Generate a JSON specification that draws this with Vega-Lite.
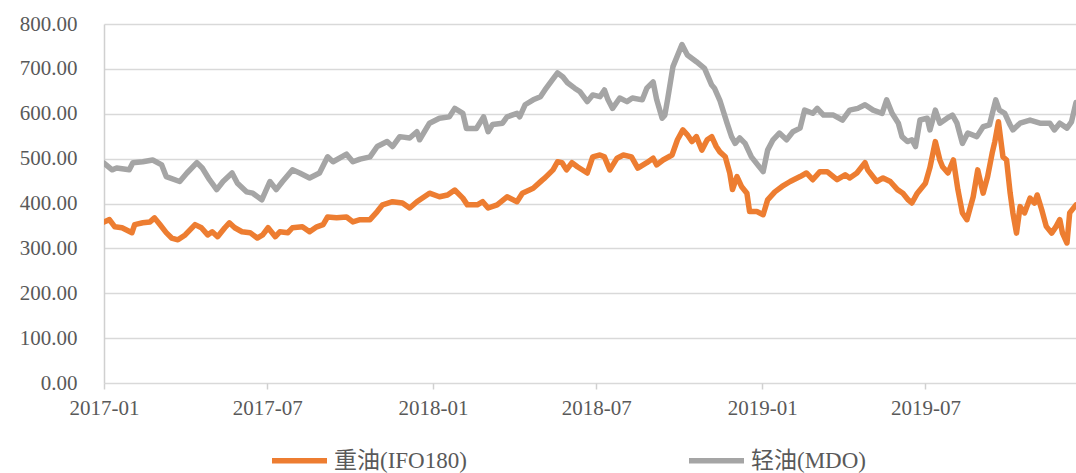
{
  "$schema": "https://vega.github.io/schema/vega-lite/v6.json",
  "width": 972,
  "height": 359,
  "autosize": {"type": "none"},
  "padding": {"left": 104, "top": 24, "right": 0, "bottom": 90},
  "background": "white",
  "config": {
    "view": {"stroke": null},
    "font": "Liberation Serif",
    "axis": {
      "labelFont": "Liberation Serif, Noto Sans CJK SC, serif",
      "labelFontSize": 21,
      "labelColor": "#595959",
      "gridColor": "#D9D9D9",
      "gridWidth": 1.5,
      "domainColor": "#D0D0D0",
      "domainWidth": 1.5,
      "tickColor": "#D0D0D0",
      "tickWidth": 1.5,
      "title": null
    },
    "legend": {
      "labelFont": "Liberation Serif, Noto Sans CJK SC, serif",
      "labelFontSize": 23,
      "labelColor": "#595959",
      "padding": 0
    }
  },
  "data": {
    "values": [
      {"d": "2017-01-01", "s": "重油(IFO180)", "v": 359},
      {"d": "2017-01-07", "s": "重油(IFO180)", "v": 364},
      {"d": "2017-01-13", "s": "重油(IFO180)", "v": 348},
      {"d": "2017-01-21", "s": "重油(IFO180)", "v": 346},
      {"d": "2017-02-01", "s": "重油(IFO180)", "v": 335},
      {"d": "2017-02-04", "s": "重油(IFO180)", "v": 353},
      {"d": "2017-02-13", "s": "重油(IFO180)", "v": 357},
      {"d": "2017-02-21", "s": "重油(IFO180)", "v": 359},
      {"d": "2017-02-26", "s": "重油(IFO180)", "v": 368},
      {"d": "2017-03-04", "s": "重油(IFO180)", "v": 353},
      {"d": "2017-03-11", "s": "重油(IFO180)", "v": 335},
      {"d": "2017-03-17", "s": "重油(IFO180)", "v": 323},
      {"d": "2017-03-24", "s": "重油(IFO180)", "v": 319},
      {"d": "2017-04-01", "s": "重油(IFO180)", "v": 330},
      {"d": "2017-04-12", "s": "重油(IFO180)", "v": 353},
      {"d": "2017-04-19", "s": "重油(IFO180)", "v": 346},
      {"d": "2017-04-26", "s": "重油(IFO180)", "v": 330},
      {"d": "2017-05-01", "s": "重油(IFO180)", "v": 337},
      {"d": "2017-05-07", "s": "重油(IFO180)", "v": 326},
      {"d": "2017-05-15", "s": "重油(IFO180)", "v": 346},
      {"d": "2017-05-20", "s": "重油(IFO180)", "v": 357},
      {"d": "2017-05-26", "s": "重油(IFO180)", "v": 346},
      {"d": "2017-06-03", "s": "重油(IFO180)", "v": 337},
      {"d": "2017-06-12", "s": "重油(IFO180)", "v": 335},
      {"d": "2017-06-20", "s": "重油(IFO180)", "v": 323},
      {"d": "2017-06-26", "s": "重油(IFO180)", "v": 330},
      {"d": "2017-07-02", "s": "重油(IFO180)", "v": 346},
      {"d": "2017-07-10", "s": "重油(IFO180)", "v": 326},
      {"d": "2017-07-15", "s": "重油(IFO180)", "v": 337},
      {"d": "2017-07-24", "s": "重油(IFO180)", "v": 335},
      {"d": "2017-07-29", "s": "重油(IFO180)", "v": 346},
      {"d": "2017-08-09", "s": "重油(IFO180)", "v": 348},
      {"d": "2017-08-17", "s": "重油(IFO180)", "v": 337},
      {"d": "2017-08-25", "s": "重油(IFO180)", "v": 348},
      {"d": "2017-09-01", "s": "重油(IFO180)", "v": 353},
      {"d": "2017-09-06", "s": "重油(IFO180)", "v": 370},
      {"d": "2017-09-16", "s": "重油(IFO180)", "v": 368},
      {"d": "2017-09-27", "s": "重油(IFO180)", "v": 370},
      {"d": "2017-10-04", "s": "重油(IFO180)", "v": 359},
      {"d": "2017-10-12", "s": "重油(IFO180)", "v": 364},
      {"d": "2017-10-23", "s": "重油(IFO180)", "v": 364},
      {"d": "2017-10-31", "s": "重油(IFO180)", "v": 382},
      {"d": "2017-11-06", "s": "重油(IFO180)", "v": 397},
      {"d": "2017-11-17", "s": "重油(IFO180)", "v": 404},
      {"d": "2017-11-28", "s": "重油(IFO180)", "v": 401},
      {"d": "2017-12-06", "s": "重油(IFO180)", "v": 390},
      {"d": "2017-12-14", "s": "重油(IFO180)", "v": 404},
      {"d": "2017-12-28", "s": "重油(IFO180)", "v": 423},
      {"d": "2018-01-08", "s": "重油(IFO180)", "v": 415},
      {"d": "2018-01-17", "s": "重油(IFO180)", "v": 419},
      {"d": "2018-01-25", "s": "重油(IFO180)", "v": 430},
      {"d": "2018-02-03", "s": "重油(IFO180)", "v": 412},
      {"d": "2018-02-08", "s": "重油(IFO180)", "v": 397},
      {"d": "2018-02-19", "s": "重油(IFO180)", "v": 397},
      {"d": "2018-02-25", "s": "重油(IFO180)", "v": 404},
      {"d": "2018-03-03", "s": "重油(IFO180)", "v": 390},
      {"d": "2018-03-13", "s": "重油(IFO180)", "v": 397},
      {"d": "2018-03-24", "s": "重油(IFO180)", "v": 415},
      {"d": "2018-04-04", "s": "重油(IFO180)", "v": 404},
      {"d": "2018-04-10", "s": "重油(IFO180)", "v": 423},
      {"d": "2018-04-22", "s": "重油(IFO180)", "v": 434},
      {"d": "2018-05-02", "s": "重油(IFO180)", "v": 452},
      {"d": "2018-05-05", "s": "重油(IFO180)", "v": 457},
      {"d": "2018-05-14", "s": "重油(IFO180)", "v": 475},
      {"d": "2018-05-19", "s": "重油(IFO180)", "v": 493},
      {"d": "2018-05-24", "s": "重油(IFO180)", "v": 491},
      {"d": "2018-05-29", "s": "重油(IFO180)", "v": 475},
      {"d": "2018-06-04", "s": "重油(IFO180)", "v": 491},
      {"d": "2018-06-10", "s": "重油(IFO180)", "v": 482},
      {"d": "2018-06-21", "s": "重油(IFO180)", "v": 468},
      {"d": "2018-06-27", "s": "重油(IFO180)", "v": 504},
      {"d": "2018-07-05", "s": "重油(IFO180)", "v": 508},
      {"d": "2018-07-10", "s": "重油(IFO180)", "v": 504},
      {"d": "2018-07-16", "s": "重油(IFO180)", "v": 475},
      {"d": "2018-07-24", "s": "重油(IFO180)", "v": 501},
      {"d": "2018-07-31", "s": "重油(IFO180)", "v": 508},
      {"d": "2018-08-09", "s": "重油(IFO180)", "v": 504},
      {"d": "2018-08-16", "s": "重油(IFO180)", "v": 479},
      {"d": "2018-08-26", "s": "重油(IFO180)", "v": 491},
      {"d": "2018-09-02", "s": "重油(IFO180)", "v": 501},
      {"d": "2018-09-06", "s": "重油(IFO180)", "v": 486},
      {"d": "2018-09-13", "s": "重油(IFO180)", "v": 497},
      {"d": "2018-09-23", "s": "重油(IFO180)", "v": 508},
      {"d": "2018-09-29", "s": "重油(IFO180)", "v": 542},
      {"d": "2018-10-05", "s": "重油(IFO180)", "v": 564},
      {"d": "2018-10-10", "s": "重油(IFO180)", "v": 553},
      {"d": "2018-10-15", "s": "重油(IFO180)", "v": 538},
      {"d": "2018-10-20", "s": "重油(IFO180)", "v": 549},
      {"d": "2018-10-26", "s": "重油(IFO180)", "v": 519},
      {"d": "2018-11-01", "s": "重油(IFO180)", "v": 542},
      {"d": "2018-11-06", "s": "重油(IFO180)", "v": 549},
      {"d": "2018-11-11", "s": "重油(IFO180)", "v": 527},
      {"d": "2018-11-15", "s": "重油(IFO180)", "v": 515},
      {"d": "2018-11-21", "s": "重油(IFO180)", "v": 504},
      {"d": "2018-11-26", "s": "重油(IFO180)", "v": 468},
      {"d": "2018-11-29", "s": "重油(IFO180)", "v": 431},
      {"d": "2018-12-04", "s": "重油(IFO180)", "v": 460},
      {"d": "2018-12-09", "s": "重油(IFO180)", "v": 438},
      {"d": "2018-12-15", "s": "重油(IFO180)", "v": 423},
      {"d": "2018-12-18", "s": "重油(IFO180)", "v": 382},
      {"d": "2018-12-26", "s": "重油(IFO180)", "v": 382},
      {"d": "2019-01-02", "s": "重油(IFO180)", "v": 375},
      {"d": "2019-01-07", "s": "重油(IFO180)", "v": 408},
      {"d": "2019-01-15", "s": "重油(IFO180)", "v": 426},
      {"d": "2019-01-23", "s": "重油(IFO180)", "v": 438},
      {"d": "2019-02-01", "s": "重油(IFO180)", "v": 449},
      {"d": "2019-02-12", "s": "重油(IFO180)", "v": 460},
      {"d": "2019-02-19", "s": "重油(IFO180)", "v": 468},
      {"d": "2019-02-26", "s": "重油(IFO180)", "v": 453},
      {"d": "2019-03-06", "s": "重油(IFO180)", "v": 471},
      {"d": "2019-03-14", "s": "重油(IFO180)", "v": 471},
      {"d": "2019-03-25", "s": "重油(IFO180)", "v": 453},
      {"d": "2019-04-03", "s": "重油(IFO180)", "v": 464},
      {"d": "2019-04-08", "s": "重油(IFO180)", "v": 457},
      {"d": "2019-04-16", "s": "重油(IFO180)", "v": 468},
      {"d": "2019-04-25", "s": "重油(IFO180)", "v": 491},
      {"d": "2019-04-28", "s": "重油(IFO180)", "v": 475},
      {"d": "2019-05-08", "s": "重油(IFO180)", "v": 449},
      {"d": "2019-05-15", "s": "重油(IFO180)", "v": 457},
      {"d": "2019-05-23", "s": "重油(IFO180)", "v": 449},
      {"d": "2019-05-31", "s": "重油(IFO180)", "v": 431},
      {"d": "2019-06-06", "s": "重油(IFO180)", "v": 423},
      {"d": "2019-06-12", "s": "重油(IFO180)", "v": 408},
      {"d": "2019-06-16", "s": "重油(IFO180)", "v": 401},
      {"d": "2019-06-22", "s": "重油(IFO180)", "v": 423},
      {"d": "2019-07-01", "s": "重油(IFO180)", "v": 445},
      {"d": "2019-07-06", "s": "重油(IFO180)", "v": 480},
      {"d": "2019-07-12", "s": "重油(IFO180)", "v": 538},
      {"d": "2019-07-17", "s": "重油(IFO180)", "v": 497},
      {"d": "2019-07-20", "s": "重油(IFO180)", "v": 482},
      {"d": "2019-07-26", "s": "重油(IFO180)", "v": 468},
      {"d": "2019-08-01", "s": "重油(IFO180)", "v": 497},
      {"d": "2019-08-06", "s": "重油(IFO180)", "v": 431},
      {"d": "2019-08-11", "s": "重油(IFO180)", "v": 379},
      {"d": "2019-08-16", "s": "重油(IFO180)", "v": 364},
      {"d": "2019-08-23", "s": "重油(IFO180)", "v": 415},
      {"d": "2019-08-28", "s": "重油(IFO180)", "v": 475},
      {"d": "2019-09-03", "s": "重油(IFO180)", "v": 423},
      {"d": "2019-09-08", "s": "重油(IFO180)", "v": 460},
      {"d": "2019-09-13", "s": "重油(IFO180)", "v": 512},
      {"d": "2019-09-16", "s": "重油(IFO180)", "v": 538},
      {"d": "2019-09-20", "s": "重油(IFO180)", "v": 582},
      {"d": "2019-09-25", "s": "重油(IFO180)", "v": 504},
      {"d": "2019-09-29", "s": "重油(IFO180)", "v": 497},
      {"d": "2019-10-03", "s": "重油(IFO180)", "v": 423},
      {"d": "2019-10-06", "s": "重油(IFO180)", "v": 379},
      {"d": "2019-10-10", "s": "重油(IFO180)", "v": 334},
      {"d": "2019-10-14", "s": "重油(IFO180)", "v": 393},
      {"d": "2019-10-19", "s": "重油(IFO180)", "v": 379},
      {"d": "2019-10-25", "s": "重油(IFO180)", "v": 412},
      {"d": "2019-10-30", "s": "重油(IFO180)", "v": 401},
      {"d": "2019-11-02", "s": "重油(IFO180)", "v": 419},
      {"d": "2019-11-07", "s": "重油(IFO180)", "v": 386},
      {"d": "2019-11-12", "s": "重油(IFO180)", "v": 349},
      {"d": "2019-11-18", "s": "重油(IFO180)", "v": 334},
      {"d": "2019-11-23", "s": "重油(IFO180)", "v": 349},
      {"d": "2019-11-27", "s": "重油(IFO180)", "v": 364},
      {"d": "2019-11-30", "s": "重油(IFO180)", "v": 334},
      {"d": "2019-12-05", "s": "重油(IFO180)", "v": 312},
      {"d": "2019-12-08", "s": "重油(IFO180)", "v": 379},
      {"d": "2019-12-15", "s": "重油(IFO180)", "v": 397},

      {"d": "2017-01-01", "s": "轻油(MDO)", "v": 490},
      {"d": "2017-01-10", "s": "轻油(MDO)", "v": 475},
      {"d": "2017-01-15", "s": "轻油(MDO)", "v": 479},
      {"d": "2017-01-29", "s": "轻油(MDO)", "v": 475},
      {"d": "2017-02-02", "s": "轻油(MDO)", "v": 491},
      {"d": "2017-02-13", "s": "轻油(MDO)", "v": 493},
      {"d": "2017-02-24", "s": "轻油(MDO)", "v": 497},
      {"d": "2017-03-06", "s": "轻油(MDO)", "v": 486},
      {"d": "2017-03-11", "s": "轻油(MDO)", "v": 460},
      {"d": "2017-03-26", "s": "轻油(MDO)", "v": 449},
      {"d": "2017-04-03", "s": "轻油(MDO)", "v": 468},
      {"d": "2017-04-14", "s": "轻油(MDO)", "v": 491},
      {"d": "2017-04-20", "s": "轻油(MDO)", "v": 479},
      {"d": "2017-04-28", "s": "轻油(MDO)", "v": 453},
      {"d": "2017-05-06", "s": "轻油(MDO)", "v": 431},
      {"d": "2017-05-13", "s": "轻油(MDO)", "v": 449},
      {"d": "2017-05-23", "s": "轻油(MDO)", "v": 468},
      {"d": "2017-05-29", "s": "轻油(MDO)", "v": 445},
      {"d": "2017-06-08", "s": "轻油(MDO)", "v": 426},
      {"d": "2017-06-15", "s": "轻油(MDO)", "v": 423},
      {"d": "2017-06-25", "s": "轻油(MDO)", "v": 408},
      {"d": "2017-07-04", "s": "轻油(MDO)", "v": 449},
      {"d": "2017-07-11", "s": "轻油(MDO)", "v": 431},
      {"d": "2017-07-18", "s": "轻油(MDO)", "v": 449},
      {"d": "2017-07-29", "s": "轻油(MDO)", "v": 475},
      {"d": "2017-08-06", "s": "轻油(MDO)", "v": 468},
      {"d": "2017-08-17", "s": "轻油(MDO)", "v": 457},
      {"d": "2017-08-28", "s": "轻油(MDO)", "v": 468},
      {"d": "2017-09-06", "s": "轻油(MDO)", "v": 504},
      {"d": "2017-09-12", "s": "轻油(MDO)", "v": 493},
      {"d": "2017-09-27", "s": "轻油(MDO)", "v": 510},
      {"d": "2017-10-04", "s": "轻油(MDO)", "v": 493},
      {"d": "2017-10-12", "s": "轻油(MDO)", "v": 499},
      {"d": "2017-10-23", "s": "轻油(MDO)", "v": 504},
      {"d": "2017-10-31", "s": "轻油(MDO)", "v": 527},
      {"d": "2017-11-11", "s": "轻油(MDO)", "v": 538},
      {"d": "2017-11-17", "s": "轻油(MDO)", "v": 527},
      {"d": "2017-11-25", "s": "轻油(MDO)", "v": 549},
      {"d": "2017-12-06", "s": "轻油(MDO)", "v": 546},
      {"d": "2017-12-14", "s": "轻油(MDO)", "v": 560},
      {"d": "2017-12-17", "s": "轻油(MDO)", "v": 542},
      {"d": "2017-12-28", "s": "轻油(MDO)", "v": 579},
      {"d": "2018-01-08", "s": "轻油(MDO)", "v": 590},
      {"d": "2018-01-19", "s": "轻油(MDO)", "v": 593},
      {"d": "2018-01-25", "s": "轻油(MDO)", "v": 612},
      {"d": "2018-02-03", "s": "轻油(MDO)", "v": 601},
      {"d": "2018-02-07", "s": "轻油(MDO)", "v": 567},
      {"d": "2018-02-18", "s": "轻油(MDO)", "v": 567},
      {"d": "2018-02-26", "s": "轻油(MDO)", "v": 593},
      {"d": "2018-03-03", "s": "轻油(MDO)", "v": 560},
      {"d": "2018-03-08", "s": "轻油(MDO)", "v": 576},
      {"d": "2018-03-19", "s": "轻油(MDO)", "v": 579},
      {"d": "2018-03-24", "s": "轻油(MDO)", "v": 593},
      {"d": "2018-04-04", "s": "轻油(MDO)", "v": 601},
      {"d": "2018-04-07", "s": "轻油(MDO)", "v": 593},
      {"d": "2018-04-13", "s": "轻油(MDO)", "v": 620},
      {"d": "2018-04-22", "s": "轻油(MDO)", "v": 631},
      {"d": "2018-04-30", "s": "轻油(MDO)", "v": 638},
      {"d": "2018-05-05", "s": "轻油(MDO)", "v": 653},
      {"d": "2018-05-13", "s": "轻油(MDO)", "v": 675},
      {"d": "2018-05-19", "s": "轻油(MDO)", "v": 691},
      {"d": "2018-05-25", "s": "轻油(MDO)", "v": 682},
      {"d": "2018-05-30", "s": "轻油(MDO)", "v": 669},
      {"d": "2018-06-07", "s": "轻油(MDO)", "v": 657},
      {"d": "2018-06-13", "s": "轻油(MDO)", "v": 649},
      {"d": "2018-06-21", "s": "轻油(MDO)", "v": 627},
      {"d": "2018-06-27", "s": "轻油(MDO)", "v": 642},
      {"d": "2018-07-05", "s": "轻油(MDO)", "v": 638},
      {"d": "2018-07-10", "s": "轻油(MDO)", "v": 653},
      {"d": "2018-07-14", "s": "轻油(MDO)", "v": 631},
      {"d": "2018-07-19", "s": "轻油(MDO)", "v": 612},
      {"d": "2018-07-27", "s": "轻油(MDO)", "v": 635},
      {"d": "2018-08-04", "s": "轻油(MDO)", "v": 627},
      {"d": "2018-08-10", "s": "轻油(MDO)", "v": 635},
      {"d": "2018-08-21", "s": "轻油(MDO)", "v": 631},
      {"d": "2018-08-26", "s": "轻油(MDO)", "v": 657},
      {"d": "2018-09-02", "s": "轻油(MDO)", "v": 671},
      {"d": "2018-09-06", "s": "轻油(MDO)", "v": 631},
      {"d": "2018-09-12", "s": "轻油(MDO)", "v": 590},
      {"d": "2018-09-15", "s": "轻油(MDO)", "v": 597},
      {"d": "2018-09-18", "s": "轻油(MDO)", "v": 631},
      {"d": "2018-09-24", "s": "轻油(MDO)", "v": 705},
      {"d": "2018-10-04", "s": "轻油(MDO)", "v": 754},
      {"d": "2018-10-10", "s": "轻油(MDO)", "v": 731},
      {"d": "2018-10-20", "s": "轻油(MDO)", "v": 716},
      {"d": "2018-10-29", "s": "轻油(MDO)", "v": 701},
      {"d": "2018-11-06", "s": "轻油(MDO)", "v": 664},
      {"d": "2018-11-09", "s": "轻油(MDO)", "v": 657},
      {"d": "2018-11-15", "s": "轻油(MDO)", "v": 630},
      {"d": "2018-11-23", "s": "轻油(MDO)", "v": 579},
      {"d": "2018-11-28", "s": "轻油(MDO)", "v": 549},
      {"d": "2018-12-02", "s": "轻油(MDO)", "v": 534},
      {"d": "2018-12-07", "s": "轻油(MDO)", "v": 546},
      {"d": "2018-12-13", "s": "轻油(MDO)", "v": 534},
      {"d": "2018-12-20", "s": "轻油(MDO)", "v": 504},
      {"d": "2018-12-27", "s": "轻油(MDO)", "v": 486},
      {"d": "2019-01-02", "s": "轻油(MDO)", "v": 471},
      {"d": "2019-01-07", "s": "轻油(MDO)", "v": 519},
      {"d": "2019-01-13", "s": "轻油(MDO)", "v": 542},
      {"d": "2019-01-20", "s": "轻油(MDO)", "v": 557},
      {"d": "2019-01-28", "s": "轻油(MDO)", "v": 542},
      {"d": "2019-02-04", "s": "轻油(MDO)", "v": 560},
      {"d": "2019-02-12", "s": "轻油(MDO)", "v": 568},
      {"d": "2019-02-17", "s": "轻油(MDO)", "v": 608},
      {"d": "2019-02-26", "s": "轻油(MDO)", "v": 601},
      {"d": "2019-03-03", "s": "轻油(MDO)", "v": 612},
      {"d": "2019-03-10", "s": "轻油(MDO)", "v": 597},
      {"d": "2019-03-21", "s": "轻油(MDO)", "v": 597},
      {"d": "2019-03-31", "s": "轻油(MDO)", "v": 586},
      {"d": "2019-04-08", "s": "轻油(MDO)", "v": 608},
      {"d": "2019-04-17", "s": "轻油(MDO)", "v": 612},
      {"d": "2019-04-25", "s": "轻油(MDO)", "v": 620},
      {"d": "2019-05-04", "s": "轻油(MDO)", "v": 608},
      {"d": "2019-05-14", "s": "轻油(MDO)", "v": 601},
      {"d": "2019-05-19", "s": "轻油(MDO)", "v": 631},
      {"d": "2019-05-25", "s": "轻油(MDO)", "v": 601},
      {"d": "2019-06-01", "s": "轻油(MDO)", "v": 579},
      {"d": "2019-06-05", "s": "轻油(MDO)", "v": 549},
      {"d": "2019-06-11", "s": "轻油(MDO)", "v": 538},
      {"d": "2019-06-16", "s": "轻油(MDO)", "v": 542},
      {"d": "2019-06-20", "s": "轻油(MDO)", "v": 527},
      {"d": "2019-06-25", "s": "轻油(MDO)", "v": 586},
      {"d": "2019-07-03", "s": "轻油(MDO)", "v": 590},
      {"d": "2019-07-06", "s": "轻油(MDO)", "v": 564},
      {"d": "2019-07-12", "s": "轻油(MDO)", "v": 608},
      {"d": "2019-07-17", "s": "轻油(MDO)", "v": 579},
      {"d": "2019-07-25", "s": "轻油(MDO)", "v": 590},
      {"d": "2019-07-31", "s": "轻油(MDO)", "v": 597},
      {"d": "2019-08-05", "s": "轻油(MDO)", "v": 579},
      {"d": "2019-08-11", "s": "轻油(MDO)", "v": 534},
      {"d": "2019-08-17", "s": "轻油(MDO)", "v": 557},
      {"d": "2019-08-27", "s": "轻油(MDO)", "v": 549},
      {"d": "2019-09-03", "s": "轻油(MDO)", "v": 571},
      {"d": "2019-09-10", "s": "轻油(MDO)", "v": 575},
      {"d": "2019-09-17", "s": "轻油(MDO)", "v": 631},
      {"d": "2019-09-21", "s": "轻油(MDO)", "v": 608},
      {"d": "2019-09-27", "s": "轻油(MDO)", "v": 601},
      {"d": "2019-10-03", "s": "轻油(MDO)", "v": 575},
      {"d": "2019-10-06", "s": "轻油(MDO)", "v": 564},
      {"d": "2019-10-14", "s": "轻油(MDO)", "v": 579},
      {"d": "2019-10-25", "s": "轻油(MDO)", "v": 586},
      {"d": "2019-11-05", "s": "轻油(MDO)", "v": 579},
      {"d": "2019-11-16", "s": "轻油(MDO)", "v": 579},
      {"d": "2019-11-21", "s": "轻油(MDO)", "v": 564},
      {"d": "2019-11-27", "s": "轻油(MDO)", "v": 579},
      {"d": "2019-12-05", "s": "轻油(MDO)", "v": 568},
      {"d": "2019-12-10", "s": "轻油(MDO)", "v": 582},
      {"d": "2019-12-15", "s": "轻油(MDO)", "v": 625}
    ]
  },
  "mark": {"type": "line", "strokeWidth": 5.5, "clip": true, "strokeJoin": "round", "strokeCap": "round"},
  "encoding": {
    "x": {
      "field": "d",
      "type": "temporal",
      "scale": {"type": "utc", "domain": [{"year": 2017, "month": 1, "date": 1, "utc": true}, {"year": 2019, "month": 12, "date": 15, "utc": true}]},
      "axis": {
        "values": [
          {"year": 2017, "month": 1, "date": 1, "utc": true},
          {"year": 2017, "month": 7, "date": 1, "utc": true},
          {"year": 2018, "month": 1, "date": 1, "utc": true},
          {"year": 2018, "month": 7, "date": 1, "utc": true},
          {"year": 2019, "month": 1, "date": 1, "utc": true},
          {"year": 2019, "month": 7, "date": 1, "utc": true}
        ],
        "format": "%Y-%m",
        "grid": false,
        "domain": false,
        "tickSize": 6,
        "labelPadding": 8,
        "labelFlush": false,
        "labelOverlap": false
      }
    },
    "y": {
      "field": "v",
      "type": "quantitative",
      "scale": {"domain": [0, 800], "nice": false},
      "axis": {
        "values": [0, 100, 200, 300, 400, 500, 600, 700, 800],
        "format": ".2f",
        "ticks": false,
        "labelPadding": 27,
        "grid": true,
        "domain": true
      }
    },
    "color": {
      "field": "s",
      "type": "nominal",
      "scale": {"domain": ["重油(IFO180)", "轻油(MDO)"], "range": ["#ED7D31", "#A5A5A5"]},
      "legend": {
        "title": null,
        "orient": "none",
        "direction": "horizontal",
        "legendX": 165,
        "legendY": 406,
        "symbolType": "stroke",
        "symbolSize": 3025,
        "symbolStrokeWidth": 5.5,
        "labelOffset": 4,
        "columnPadding": 211
      }
    }
  }
}
